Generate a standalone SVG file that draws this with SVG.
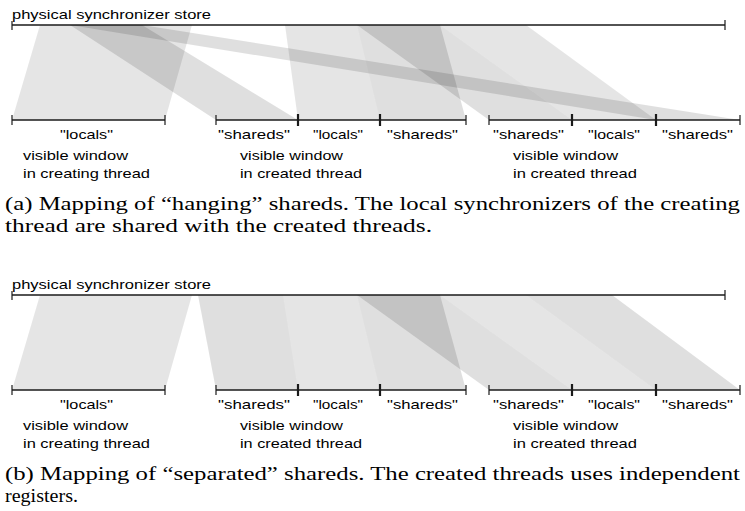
<svg xmlns="http://www.w3.org/2000/svg" width="745" height="511" viewBox="0 0 745 511">
<style>
.loc{fill:#000;fill-opacity:0.1;stroke:none}
.sh{fill:#000;fill-opacity:0.125;stroke:none}
.ln{stroke:#1a1a1a;stroke-width:1.3;fill:none}
.tk{stroke:#1a1a1a;stroke-width:1.2;fill:none}
.jt{stroke:#1a1a1a;stroke-width:2.2;fill:none}
.lb{font-family:"Liberation Sans",Arial,Helvetica,sans-serif;font-size:13.5px;fill:#000}
.cap{font-family:"Liberation Serif","Times New Roman",serif;font-size:18.5px;fill:#000}
</style>
<rect width="745" height="511" fill="#fff"/>

<!-- Panel (a) -->
<g id="panel-a">
  <g id="a-connectors">
    <polygon class="loc" points="40,25 192,25 165,120 12,120"/>
    <polygon class="sh" points="70,25 142,25 298,120 216,120"/>
    <polygon class="sh" points="70,25 142,25 740,120 656,120"/>
    <polygon class="loc" points="285,25 357,25 380,120 298,120"/>
    <polygon class="sh" points="357,25 440,25 466,120 380,120"/>
    <polygon class="sh" points="357,25 440,25 572,120 489,120"/>
    <polygon class="loc" points="440,25 526,25 656,120 572,120"/>
  </g>
  <g id="a-store">
    <text class="lb" x="12" y="19" textLength="199" lengthAdjust="spacingAndGlyphs">physical synchronizer store</text>
    <line class="ln" x1="12" y1="25" x2="725" y2="25"/>
    <line class="tk" x1="12" y1="21" x2="12" y2="30"/>
    <line class="tk" x1="725" y1="20" x2="725" y2="30"/>
  </g>
  <g id="a-window-creating">
    <line class="ln" x1="12" y1="120" x2="165" y2="120"/>
    <line class="tk" x1="12" y1="115" x2="12" y2="125"/>
    <line class="tk" x1="165" y1="115" x2="165" y2="125"/>
    <text class="lb" x="60" y="139" textLength="53" lengthAdjust="spacingAndGlyphs">"locals"</text>
    <text class="lb" x="23" y="160" textLength="105" lengthAdjust="spacingAndGlyphs">visible window</text>
    <text class="lb" x="23" y="178" textLength="127" lengthAdjust="spacingAndGlyphs">in creating thread</text>
  </g>
  <g id="a-window-created-1">
    <line class="ln" x1="216" y1="120" x2="466" y2="120"/>
    <line class="tk" x1="216" y1="115" x2="216" y2="125"/>
    <line class="jt" x1="298" y1="114" x2="298" y2="126"/>
    <line class="jt" x1="380" y1="114" x2="380" y2="126"/>
    <line class="tk" x1="466" y1="115" x2="466" y2="125"/>
    <text class="lb" x="218" y="139" textLength="72" lengthAdjust="spacingAndGlyphs">"shareds"</text>
    <text class="lb" x="313" y="139" textLength="50" lengthAdjust="spacingAndGlyphs">"locals"</text>
    <text class="lb" x="387" y="139" textLength="71" lengthAdjust="spacingAndGlyphs">"shareds"</text>
    <text class="lb" x="240" y="160" textLength="103" lengthAdjust="spacingAndGlyphs">visible window</text>
    <text class="lb" x="240" y="178" textLength="122" lengthAdjust="spacingAndGlyphs">in created thread</text>
  </g>
  <g id="a-window-created-2">
    <line class="ln" x1="489" y1="120" x2="740" y2="120"/>
    <line class="tk" x1="489" y1="115" x2="489" y2="125"/>
    <line class="jt" x1="572" y1="114" x2="572" y2="126"/>
    <line class="jt" x1="656" y1="114" x2="656" y2="126"/>
    <line class="tk" x1="740" y1="115" x2="740" y2="125"/>
    <text class="lb" x="493" y="139" textLength="71" lengthAdjust="spacingAndGlyphs">"shareds"</text>
    <text class="lb" x="588" y="139" textLength="52" lengthAdjust="spacingAndGlyphs">"locals"</text>
    <text class="lb" x="662" y="139" textLength="71" lengthAdjust="spacingAndGlyphs">"shareds"</text>
    <text class="lb" x="513" y="160" textLength="105" lengthAdjust="spacingAndGlyphs">visible window</text>
    <text class="lb" x="513" y="178" textLength="124" lengthAdjust="spacingAndGlyphs">in created thread</text>
  </g>
  <g id="a-caption">
    <text class="cap" x="5" y="210" textLength="735" lengthAdjust="spacingAndGlyphs">(a) Mapping of “hanging” shareds. The local synchronizers of the creating</text>
    <text class="cap" x="5" y="232" textLength="427" lengthAdjust="spacingAndGlyphs">thread are shared with the created threads.</text>
  </g>
</g>

<!-- Panel (b) -->
<g id="panel-b">
  <g id="b-connectors">
    <polygon class="loc" points="40,295 192,295 165,390 12,390"/>
    <polygon class="sh" points="198,295 283,295 298,390 216,390"/>
    <polygon class="loc" points="283,295 357,295 380,390 298,390"/>
    <polygon class="sh" points="357,295 440,295 466,390 380,390"/>
    <polygon class="sh" points="357,295 440,295 572,390 489,390"/>
    <polygon class="loc" points="440,295 526,295 656,390 572,390"/>
    <polygon class="sh" points="526,295 612,295 740,390 656,390"/>
  </g>
  <g id="b-store">
    <text class="lb" x="12" y="289" textLength="199" lengthAdjust="spacingAndGlyphs">physical synchronizer store</text>
    <line class="ln" x1="12" y1="295" x2="725" y2="295"/>
    <line class="tk" x1="12" y1="291" x2="12" y2="300"/>
    <line class="tk" x1="725" y1="290" x2="725" y2="300"/>
  </g>
  <g id="b-window-creating">
    <line class="ln" x1="12" y1="390" x2="165" y2="390"/>
    <line class="tk" x1="12" y1="385" x2="12" y2="395"/>
    <line class="tk" x1="165" y1="385" x2="165" y2="395"/>
    <text class="lb" x="60" y="409" textLength="53" lengthAdjust="spacingAndGlyphs">"locals"</text>
    <text class="lb" x="23" y="430" textLength="105" lengthAdjust="spacingAndGlyphs">visible window</text>
    <text class="lb" x="23" y="448" textLength="127" lengthAdjust="spacingAndGlyphs">in creating thread</text>
  </g>
  <g id="b-window-created-1">
    <line class="ln" x1="216" y1="390" x2="466" y2="390"/>
    <line class="tk" x1="216" y1="385" x2="216" y2="395"/>
    <line class="jt" x1="298" y1="384" x2="298" y2="396"/>
    <line class="jt" x1="380" y1="384" x2="380" y2="396"/>
    <line class="tk" x1="466" y1="385" x2="466" y2="395"/>
    <text class="lb" x="218" y="409" textLength="72" lengthAdjust="spacingAndGlyphs">"shareds"</text>
    <text class="lb" x="313" y="409" textLength="50" lengthAdjust="spacingAndGlyphs">"locals"</text>
    <text class="lb" x="387" y="409" textLength="71" lengthAdjust="spacingAndGlyphs">"shareds"</text>
    <text class="lb" x="240" y="430" textLength="103" lengthAdjust="spacingAndGlyphs">visible window</text>
    <text class="lb" x="240" y="448" textLength="122" lengthAdjust="spacingAndGlyphs">in created thread</text>
  </g>
  <g id="b-window-created-2">
    <line class="ln" x1="489" y1="390" x2="740" y2="390"/>
    <line class="tk" x1="489" y1="385" x2="489" y2="395"/>
    <line class="jt" x1="572" y1="384" x2="572" y2="396"/>
    <line class="jt" x1="656" y1="384" x2="656" y2="396"/>
    <line class="tk" x1="740" y1="385" x2="740" y2="395"/>
    <text class="lb" x="493" y="409" textLength="71" lengthAdjust="spacingAndGlyphs">"shareds"</text>
    <text class="lb" x="588" y="409" textLength="52" lengthAdjust="spacingAndGlyphs">"locals"</text>
    <text class="lb" x="662" y="409" textLength="71" lengthAdjust="spacingAndGlyphs">"shareds"</text>
    <text class="lb" x="513" y="430" textLength="105" lengthAdjust="spacingAndGlyphs">visible window</text>
    <text class="lb" x="513" y="448" textLength="124" lengthAdjust="spacingAndGlyphs">in created thread</text>
  </g>
  <g id="b-caption">
    <text class="cap" x="5" y="480" textLength="735" lengthAdjust="spacingAndGlyphs">(b) Mapping of “separated” shareds. The created threads uses independent</text>
    <text class="cap" x="5" y="502" textLength="73" lengthAdjust="spacingAndGlyphs">registers.</text>
  </g>
</g>
</svg>
